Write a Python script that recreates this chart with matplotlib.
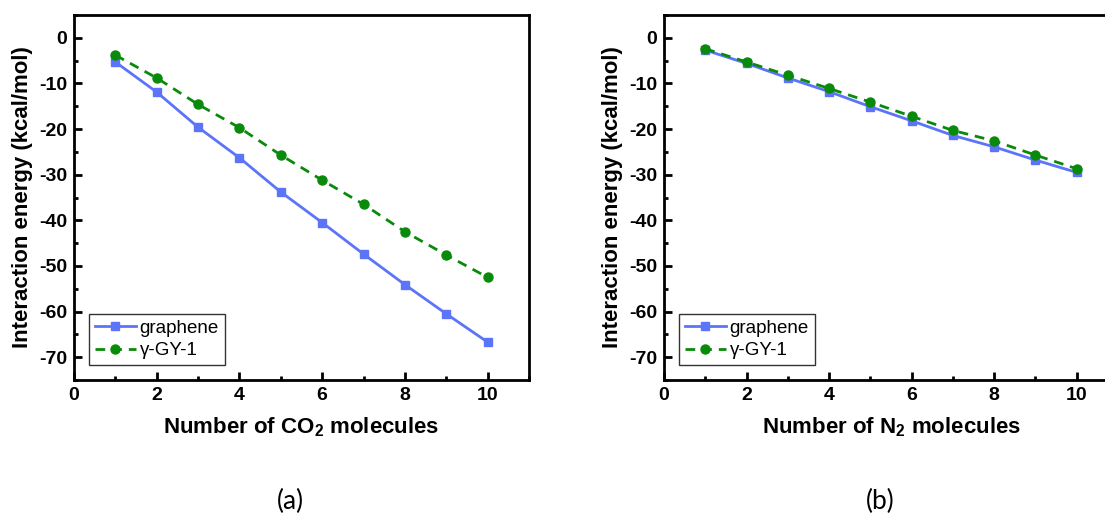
import matplotlib
matplotlib.use("Agg")
import matplotlib.pyplot as plt
from matplotlib.ticker import MultipleLocator

n_molecules = [1, 2, 3, 4, 5, 6, 7, 8, 9, 10]
co2_graphene = [-5.3, -11.9, -19.6, -26.3, -33.8, -40.5, -47.4, -54.1, -60.5, -66.7]
co2_gy1 = [-3.8, -8.8, -14.6, -19.7, -25.7, -31.2, -36.5, -42.5, -47.6, -52.5]
n2_graphene = [-2.7, -5.6, -8.8, -11.8, -15.1, -18.2, -21.4, -23.9, -26.8, -29.5]
n2_gy1 = [-2.4, -5.3, -8.2, -11.1, -14.1, -17.2, -20.3, -22.6, -25.7, -28.7]
series_labels = ["graphene", "γ-GY-1"]
x_labels = ["Number of CO$_\\mathbf{2}$ molecules", "Number of N$_\\mathbf{2}$ molecules"]
y_label = "Interaction energy (kcal/mol)"
panel_labels = ["(a)", "(b)"]

plt.rcParams['font.family'] = ['Liberation Sans', 'DejaVu Sans']
plt.rcParams['axes.unicode_minus'] = False
plt.rcParams['mathtext.fontset'] = 'custom'
plt.rcParams['mathtext.rm'] = 'Liberation Sans:bold'
plt.rcParams['mathtext.bf'] = 'Liberation Sans:bold'

W, H = 1105, 523
fig = plt.figure(figsize=(W / 100, H / 100), dpi=100)

blue = '#5C74F8'
green = '#0A8A0A'

panels = [
    (74, 529, co2_graphene, co2_gy1, 0),
    (664, 1118, n2_graphene, n2_gy1, 1),
]
for left, right, g, gy, i in panels:
    ax = fig.add_axes([left / W, 1 - 380 / H, (right - left) / W, (380 - 15) / H])
    ax.plot(n_molecules, g, color=blue, lw=2, marker='s', ms=6, label=series_labels[0])
    ax.plot(n_molecules, gy, color=green, lw=2, ls=(0, (3.5, 2.5)), marker='o', ms=6.5,
            label=series_labels[1])
    ax.set_xlim(0, 11)
    ax.set_ylim(-75, 5)
    ax.xaxis.set_major_locator(MultipleLocator(2))
    ax.xaxis.set_minor_locator(MultipleLocator(1))
    ax.yaxis.set_major_locator(MultipleLocator(10))
    ax.yaxis.set_minor_locator(MultipleLocator(5))
    ax.tick_params(which='both', direction='in', top=False, right=False, width=2)
    ax.tick_params(which='major', length=6, labelsize=14, pad=5)
    ax.tick_params(which='minor', length=3)
    for lab in ax.get_xticklabels() + ax.get_yticklabels():
        lab.set_fontweight('bold')
    for sp in ax.spines.values():
        sp.set_linewidth(2)
    ax.set_xlabel(x_labels[i], fontsize=16, fontweight='bold', labelpad=8)
    ax.set_ylabel(y_label, fontsize=16, fontweight='bold', labelpad=4)
    leg = ax.legend(loc='lower left', fontsize=13.5, frameon=True, fancybox=False,
                    edgecolor='black', handlelength=2.2, handletextpad=0.2,
                    borderpad=0.3, labelspacing=0.3, borderaxespad=0.8)
    leg.get_frame().set_linewidth(1)
    fig.text((left + 216) / W, 1 - 501 / H, panel_labels[i], fontsize=19,
             family=['Lato', 'DejaVu Sans'], ha='center', va='center')

fig.savefig('out.png', dpi=100)
